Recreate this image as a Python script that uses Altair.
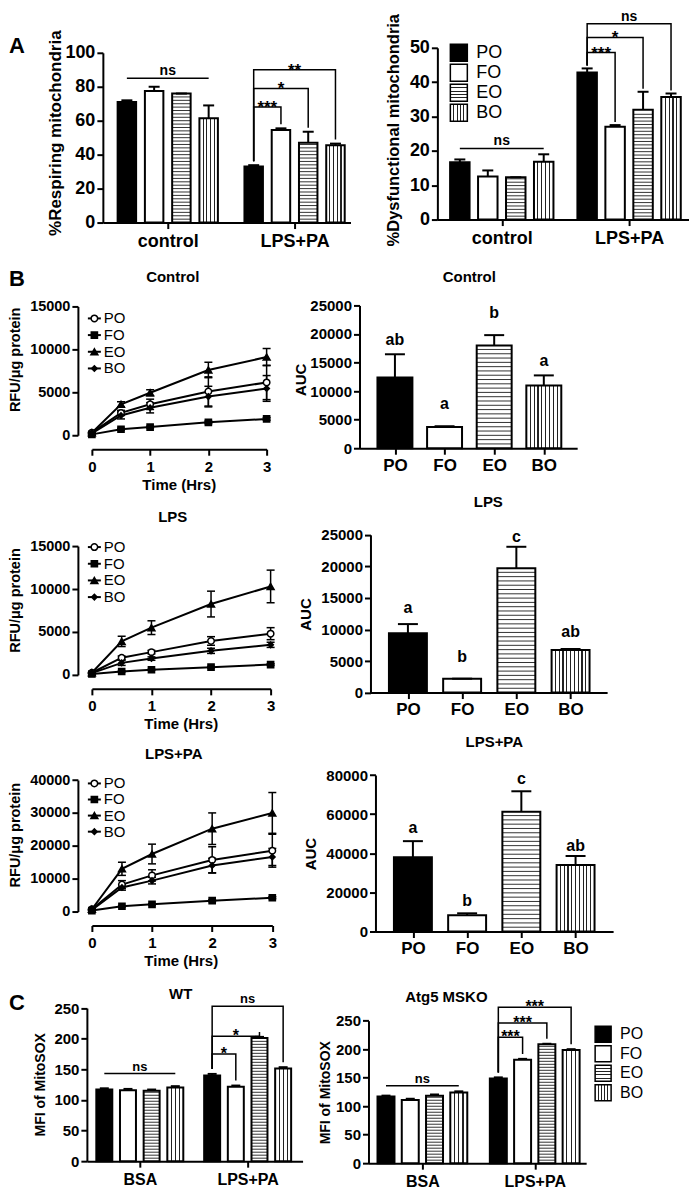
import altair as alt
import pandas as pd

FONT = "Liberation Sans"
SERIES = ["PO", "FO", "EO", "BO"]

# ---------------- Panel A data ----------------
A_GROUPS = ["control", "LPS+PA"]
A_RESP_MEAN = [71.0, 77.5, 76.0, 61.5, 33.0, 54.5, 47.0, 45.5]
A_RESP_ERR = [1.0, 2.5, 0.0, 7.5, 0.8, 1.0, 6.5, 1.0]
A_RESP_NS = 85.0
A_RESP_BRACKETS = [("FO", 68.0, "***"), ("EO", 79.0, "*"), ("BO", 90.0, "**")]

A_DYS_MEAN = [16.7, 12.5, 12.3, 16.8, 42.8, 27.0, 32.0, 35.7]
A_DYS_ERR = [0.8, 1.8, 0.0, 2.2, 1.2, 0.5, 5.2, 1.0]
A_DYS_NS = 20.7
A_DYS_BRACKETS = [("FO", 48.6, "***"), ("EO", 53.0, "*"), ("BO", 57.0, "ns")]

# ---------------- Panel B data ----------------
TIMES = [0, 0.5, 1, 2, 3]

B_CTRL_MEAN = {
    "PO": [300, 2600, 3600, 5100, 6150],
    "FO": [100, 700, 950, 1500, 1900],
    "EO": [300, 3600, 4950, 7600, 9100],
    "BO": [200, 2300, 3200, 4500, 5450],
}
B_CTRL_ERR = {
    "PO": [50, 300, 600, 1700, 2000],
    "FO": [20, 100, 100, 150, 150],
    "EO": [50, 300, 350, 900, 1000],
    "BO": [50, 400, 600, 1200, 1500],
}
B_CTRL_AUC = [12400, 3700, 18000, 11000]
B_CTRL_AUC_ERR = [4050, 150, 1800, 1750]
B_CTRL_LETTERS = ["ab", "a", "b", "a"]
B_CTRL_LETTER_Y = [18000, 6900, 22750, 14350]

B_LPS_MEAN = {
    "PO": [250, 2000, 2650, 3950, 4800],
    "FO": [100, 400, 600, 900, 1200],
    "EO": [250, 3900, 5500, 8250, 10300],
    "BO": [200, 1400, 1900, 2800, 3500],
}
B_LPS_ERR = {
    "PO": [50, 200, 200, 500, 700],
    "FO": [20, 50, 50, 80, 100],
    "EO": [50, 600, 800, 1500, 1900],
    "BO": [30, 300, 200, 300, 300],
}
B_LPS_AUC = [9400, 2200, 19700, 6750]
B_LPS_AUC_ERR = [1450, 0, 3400, 150]
B_LPS_LETTERS = ["a", "b", "c", "ab"]
B_LPS_LETTER_Y = [12660, 4860, 23840, 8810]

B_LPSPA_MEAN = {
    "PO": [700, 8200, 11000, 15700, 18500],
    "FO": [300, 1600, 2200, 3300, 4200],
    "EO": [700, 13000, 17500, 25200, 30000],
    "BO": [500, 7300, 9400, 14000, 16600],
}
B_LPSPA_ERR = {
    "PO": [100, 1200, 1700, 4000, 5000],
    "FO": [50, 200, 200, 300, 300],
    "EO": [100, 2000, 3000, 4800, 6200],
    "BO": [100, 800, 1000, 2200, 2600],
}
B_LPSPA_AUC = [38000, 8300, 61200, 34000]
B_LPSPA_AUC_ERR = [8200, 1000, 10500, 4600]
B_LPSPA_LETTERS = ["a", "b", "c", "ab"]
B_LPSPA_LETTER_Y = [50150, 13100, 75300, 41150]

# ---------------- Panel C data ----------------
C_GROUPS = ["BSA", "LPS+PA"]
C_WT_MEAN = [117.0, 116.0, 115.0, 120.5, 140.0, 121.5, 201.0, 151.5]
C_WT_ERR = [2.0, 2.0, 2.0, 2.0, 2.5, 2.0, 2.0, 2.0]
C_WT_NS = 143.0
C_WT_BRACKETS = [("FO", 175.0, "*"), ("EO", 204.0, "*"), ("BO", 253.0, "ns")]

C_KO_MEAN = [117.0, 111.0, 118.5, 124.0, 148.5, 181.5, 208.5, 198.5]
C_KO_ERR = [1.5, 2.0, 2.0, 2.0, 2.0, 1.5, 1.0, 1.5]
C_KO_NS = 136.0
C_KO_BRACKETS = [("FO", 221.0, "***"), ("EO", 246.0, "***"), ("BO", 273.5, "***")]

# ---------------- layout (page pixels) ----------------
CELL_X = [8, 340]
CELL_W = [332, 349]
CELL_Y = [8, 262, 492, 730, 975]
CELL_H = [254, 230, 238, 245, 205]

SHAPE = {"PO": "circle", "FO": "square", "EO": "triangle-up", "BO": "diamond"}
FILLC = {"PO": "white", "FO": "black", "EO": "black", "BO": "black"}
SIZE = {"PO": 42, "FO": 38, "EO": 48, "BO": 30}

AXIS_COMMON = dict(domainColor="black", domainWidth=2, tickColor="black", tickWidth=2, tickSize=6,
                   labelColor="black", labelFont=FONT, labelFontWeight="bold", grid=False,
                   titleColor="black", titleFont=FONT, titleFontWeight="bold",
                   labelFlush=False, labelOverlap=False, labelBound=False)


def label_expr(labels):
    expr = "'" + labels[-1] + "'"
    for i in range(len(labels) - 2, -1, -1):
        expr = "datum.value < %s ? '%s' : %s" % (i + 0.5, labels[i], expr)
    return expr


def stripe_fill(n, horizontal_lines, half):
    stops = [alt.GradientStop(color="white", offset=0)]
    for j in range(1, n + 1):
        p = j / (n + 1.0)
        stops += [alt.GradientStop(color="white", offset=p - half),
                  alt.GradientStop(color="#222222", offset=p - half),
                  alt.GradientStop(color="#222222", offset=p + half),
                  alt.GradientStop(color="white", offset=p + half)]
    stops.append(alt.GradientStop(color="white", offset=1))
    if horizontal_lines:
        return alt.LinearGradient(gradient="linear", stops=stops, x1=0, x2=0, y1=0, y2=1)
    return alt.LinearGradient(gradient="linear", stops=stops, x1=0, x2=1, y1=0, y2=0)


def text_at(cx, cy, s, x, y, size, weight="bold", align="center", baseline="middle"):
    return alt.Chart(pd.DataFrame({"t": [s]})).mark_text(
        font=FONT, fontSize=size, fontWeight=weight, align=align, baseline=baseline, color="black"
    ).encode(text="t:N", x=alt.value(x - cx), y=alt.value(y - cy))


def square_legend(cx, cy, x, y, size, step, fs, gap):
    layers = []
    for i, name in enumerate(SERIES):
        top = y + i * step - size / 2.0
        if name == "PO":
            fill = "black"
        elif name == "FO":
            fill = "white"
        elif name == "EO":
            fill = stripe_fill(4, True, 0.5 / size)
        else:
            fill = stripe_fill(4, False, 0.5 / size)
        d = pd.DataFrame({"t": [name]})
        layers.append(alt.Chart(d).mark_rect(fill=fill, stroke="black", strokeWidth=1.5).encode(
            x=alt.value(x - cx), x2=alt.value(x + size - cx),
            y=alt.value(top - cy), y2=alt.value(top + size - cy)))
        layers.append(alt.Chart(d).mark_text(font=FONT, fontSize=fs, align="left", baseline="middle",
                                             color="black").encode(
            text="t:N", x=alt.value(x + size + gap - cx), y=alt.value(y + i * step - cy)))
    return layers


def make_bar_panel(r, c, L, groups, means, errs, ns_y=None, brackets=(), letters=None, letter_y=None):
    cx, cy, W, H = CELL_X[c], CELL_Y[r], CELL_W[c], CELL_H[r]
    grouped = len(groups) > 1
    unit = L["unit"]
    ymax = L["ymax"]
    ppu = (L["y0"] - L["ytop"]) / float(ymax)

    def xc(g, s):
        if grouped:
            return g + (s - 1.5) * L["sub"] / unit
        return float(s)

    hw = L["barw"] / 2.0 / unit
    cw = L["capw"] / 2.0 / unit
    recs = []
    tops = {}
    for g in range(len(groups)):
        for s, name in enumerate(SERIES):
            m = means[g * 4 + s]
            e = errs[g * 4 + s]
            x = xc(g, s)
            tops[(g, s)] = m + e
            recs.append(dict(series=name, xc=x, x1=x - hw, x2=x + hw, c1=x - cw, c2=x + cw,
                             mean=m, top=m + e))
    df = pd.DataFrame(recs)

    XS = alt.Scale(domain=[(L["axis_x"] - L["c0"]) / unit, (L["x_end"] - L["c0"]) / unit],
                   range=[L["axis_x"] - cx, L["x_end"] - cx], nice=False, zero=False)
    YS = alt.Scale(domain=[0, ymax], range=[L["y0"] - cy, L["ytop"] - cy], nice=False, zero=True)
    ticks = list(range(len(groups))) if grouped else [0, 1, 2, 3]
    tlabels = groups if grouped else SERIES
    XA = alt.Axis(values=ticks, labelExpr=label_expr(tlabels), title=None,
                  offset=(L["y0"] - cy) - H, labelFontSize=L["xfs"], labelPadding=L["xpad"], **AXIS_COMMON)
    YA = alt.Axis(values=list(range(0, ymax + 1, L["ytick"])), format="d",
                  offset=-(L["axis_x"] - cx), title=L["ytitle"],
                  titleX=L["tx"] - L["axis_x"], titleY=L["ty"] - cy, titleAngle=270,
                  titleAlign="center", titleBaseline="middle", titleFontSize=L["tfs"],
                  labelFontSize=L["yfs"], labelPadding=2, **AXIS_COMMON)

    def X(f):
        return alt.X(f, type="quantitative", scale=XS, axis=XA)

    def Y(f):
        return alt.Y(f, type="quantitative", scale=YS, axis=YA)

    layers = []
    layers.append(alt.Chart(df[df.series == "PO"]).mark_rect(fill="black", strokeWidth=0).encode(
        x=X("x1"), x2="x2", y=Y("mean"), y2=alt.datum(0)))
    layers.append(alt.Chart(df[df.series.isin(["FO", "EO"])]).mark_rect(fill="white", strokeWidth=0).encode(
        x=X("x1"), x2="x2", y=Y("mean"), y2=alt.datum(0)))
    layers.append(alt.Chart(df[df.series == "BO"]).mark_rect(
        fill=stripe_fill(L["bo_lines"], False, 0.55 / L["barw"]), strokeWidth=0).encode(
        x=X("x1"), x2="x2", y=Y("mean"), y2=alt.datum(0)))
    step = L["stripe_px"] / ppu
    layers.append(alt.Chart(df[df.series == "EO"]).transform_calculate(
        ys="sequence(%r, datum.mean - %r, %r)" % (step, step * 0.4, step)
    ).transform_flatten(["ys"]).mark_rule(color="#333333", strokeWidth=1).encode(
        x=X("x1"), x2="x2", y=Y("ys")))
    layers.append(alt.Chart(df).mark_rect(fill="white", fillOpacity=0, stroke="black", strokeWidth=2).encode(
        x=X("x1"), x2="x2", y=Y("mean"), y2=alt.datum(0)))
    layers.append(alt.Chart(df).mark_rule(color="black", strokeWidth=2).encode(
        x=X("xc"), y=Y("mean"), y2="top"))
    layers.append(alt.Chart(df).mark_rule(color="black", strokeWidth=2).encode(
        x=X("c1"), x2="c2", y=Y("top")))

    if ns_y is not None:
        a, b = xc(0, 0), xc(0, 3)
        nd = pd.DataFrame({"a": [a], "b": [b], "m": [(a + b) / 2], "y": [ns_y], "t": ["ns"]})
        layers.append(alt.Chart(nd).mark_rule(color="black", strokeWidth=1.5).encode(
            x=X("a"), x2="b", y=Y("y")))
        layers.append(alt.Chart(nd).mark_text(font=FONT, fontSize=L["ns_fs"], fontWeight="bold",
                                              baseline="alphabetic", dy=-3, color="black").encode(
            x=X("m"), y=Y("y"), text="t:N"))

    if brackets:
        gap = L["gap"] / ppu
        brec, trec = [], []
        for bi, (tgt, yb, lab) in enumerate(brackets):
            s = SERIES.index(tgt)
            xa, xb = xc(1, 0), xc(1, s)
            brec += [dict(bid=bi, k=0, bx=xa, by=tops[(1, 0)] + gap),
                     dict(bid=bi, k=1, bx=xa, by=yb),
                     dict(bid=bi, k=2, bx=xb, by=yb),
                     dict(bid=bi, k=3, bx=xb, by=tops[(1, s)] + gap)]
            trec.append(dict(x=(xa + xb) / 2, y=yb, t=lab, star=(lab.strip("*") == "")))
        bd = pd.DataFrame(brec)
        td = pd.DataFrame(trec)
        layers.append(alt.Chart(bd).mark_line(color="black", strokeWidth=1.5).encode(
            x=X("bx"), y=Y("by"), detail="bid:N", order="k:Q"))
        stars = td[td.star]
        others = td[~td.star]
        if len(stars):
            layers.append(alt.Chart(stars).mark_text(font=FONT, fontSize=L["ast_fs"], fontWeight="bold",
                                                     baseline="alphabetic", dy=L["ast_dy"], color="black").encode(
                x=X("x"), y=Y("y"), text="t:N"))
        if len(others):
            layers.append(alt.Chart(others).mark_text(font=FONT, fontSize=L["ns_fs"], fontWeight="bold",
                                                      baseline="alphabetic", dy=-3, color="black").encode(
                x=X("x"), y=Y("y"), text="t:N"))

    if letters:
        ld = pd.DataFrame({"x": [float(s) for s in range(4)], "y": letter_y, "t": letters})
        layers.append(alt.Chart(ld).mark_text(font=FONT, fontSize=16, fontWeight="bold",
                                              baseline="alphabetic", color="black").encode(
            x=X("x"), y=Y("y"), text="t:N"))
    return layers, (cx, cy, W, H)


def make_line_panel(r, c, L, means, errs):
    cx, cy, W, H = CELL_X[c], CELL_Y[r], CELL_W[c], CELL_H[r]
    ymax = L["ymax"]
    xppu = (L["x3"] - L["x0"]) / 3.0
    capd = L["capw"] / 2.0 / xppu
    recs = []
    for name in SERIES:
        for t, m, e in zip(TIMES, means[name], errs[name]):
            recs.append(dict(series=name, t=t, mean=m, lo=m - e, hi=m + e, c1=t - capd, c2=t + capd))
    df = pd.DataFrame(recs)
    XS = alt.Scale(domain=[0, 3], range=[L["x0"] - cx, L["x3"] - cx], nice=False, zero=False)
    YS = alt.Scale(domain=[0, ymax], range=[L["y0"] - cy, L["ytop"] - cy], nice=False, zero=True)
    XA = alt.Axis(values=[0, 1, 2, 3], format="d", offset=(L["xaxis_y"] - cy) - H,
                  title="Time (Hrs)", titleX=L["ttx"] - cx, titleY=L["tty"] - L["xaxis_y"],
                  titleAlign="center", titleBaseline="middle", titleFontSize=15,
                  labelFontSize=15, labelPadding=4, **AXIS_COMMON)
    YA = alt.Axis(values=list(range(0, ymax + 1, L["ytick"])), format="d",
                  offset=-(L["axis_x"] - cx), title="RFU/\u03bcg protein",
                  titleX=L["tx"] - L["axis_x"], titleY=L["ty"] - cy, titleAngle=270,
                  titleAlign="center", titleBaseline="middle", titleFontSize=14.5,
                  labelFontSize=14.5, labelPadding=2, **AXIS_COMMON)

    def X(f):
        return alt.X(f, type="quantitative", scale=XS, axis=XA)

    def Y(f):
        return alt.Y(f, type="quantitative", scale=YS, axis=YA)

    base = alt.Chart(df)
    layers = [
        base.mark_line(color="black", strokeWidth=2).encode(x=X("t"), y=Y("mean"), detail="series:N"),
        base.mark_rule(color="black", strokeWidth=1.5).encode(x=X("t"), y=Y("lo"), y2="hi"),
        base.mark_rule(color="black", strokeWidth=1.5).encode(x=X("c1"), x2="c2", y=Y("lo")),
        base.mark_rule(color="black", strokeWidth=1.5).encode(x=X("c1"), x2="c2", y=Y("hi")),
    ]
    for name in SERIES:
        layers.append(alt.Chart(df[df.series == name]).mark_point(
            shape=SHAPE[name], fill=FILLC[name], size=SIZE[name], stroke="black", strokeWidth=1.5,
            opacity=1, filled=True).encode(x=X("t"), y=Y("mean")))
    for i, name in enumerate(SERIES):
        yy = L["ly"] + i * L["lstep"] - cy
        d = pd.DataFrame({"t": [name]})
        layers.append(alt.Chart(d).mark_rule(color="black", strokeWidth=2).encode(
            x=alt.value(L["lx"] - cx), x2=alt.value(L["lx"] + 13 - cx), y=alt.value(yy)))
        layers.append(alt.Chart(d).mark_point(shape=SHAPE[name], fill=FILLC[name], size=SIZE[name],
                                              stroke="black", strokeWidth=1.5, opacity=1, filled=True).encode(
            x=alt.value(L["lx"] + 6.5 - cx), y=alt.value(yy)))
        layers.append(alt.Chart(d).mark_text(font=FONT, fontSize=15, align="left", baseline="middle",
                                             color="black").encode(
            text="t:N", x=alt.value(L["lx"] + 16 - cx), y=alt.value(yy)))
    return layers, (cx, cy, W, H)


def finish(layers, geom):
    return alt.layer(*layers).properties(width=geom[2], height=geom[3])


# ---------------- panel layouts ----------------
L_A_RESP = dict(axis_x=102, x_end=350, c0=167, unit=127, sub=27.3, barw=18.5, capw=11,
                y0=220, ytop=50, ymax=100, ytick=20, yfs=18, xfs=18, xpad=4,
                ytitle="%Respiring mitochondria", tx=55, ty=130, tfs=17,
                stripe_px=3.4, bo_lines=4, gap=4, ast_fs=17, ast_dy=6, ns_fs=14)
L_A_DYS = dict(axis_x=437, x_end=689, c0=501.5, unit=127.5, sub=28, barw=19.5, capw=11,
               y0=217, ytop=45, ymax=50, ytick=10, yfs=18, xfs=18, xpad=4,
               ytitle="%Dysfunctional mitochondria", tx=393, ty=127, tfs=16.5,
               stripe_px=3.4, bo_lines=4, gap=3, ast_fs=17, ast_dy=6, ns_fs=14)
L_B1_BAR = dict(axis_x=359, x_end=577, c0=394.5, unit=49.7, barw=35, capw=20,
                y0=446, ytop=303, ymax=25000, ytick=5000, yfs=15, xfs=17, xpad=3,
                ytitle="AUC", tx=300, ty=377, tfs=15, stripe_px=4.3, bo_lines=8)
L_B2_BAR = dict(axis_x=370, x_end=607, c0=407.5, unit=54.3, barw=38, capw=20,
                y0=690.7, ytop=532.7, ymax=25000, ytick=5000, yfs=15, xfs=17, xpad=3,
                ytitle="AUC", tx=305, ty=612, tfs=15, stripe_px=4.3, bo_lines=9)
L_B3_BAR = dict(axis_x=375, x_end=613, c0=412.5, unit=54.3, barw=38, capw=20,
                y0=930, ytop=773.3, ymax=80000, ytick=20000, yfs=15, xfs=17, xpad=3,
                ytitle="AUC", tx=310, ty=852, tfs=15, stripe_px=4.3, bo_lines=9)
L_C_WT = dict(axis_x=86, x_end=302, c0=139, unit=108, sub=23.7, barw=16, capw=9,
              y0=1160, ytop=1006.7, ymax=250, ytick=50, yfs=15, xfs=16, xpad=4,
              ytitle="MFI of MitoSOX", tx=40, ty=1083, tfs=14,
              stripe_px=3.0, bo_lines=3, gap=5, ast_fs=16, ast_dy=5, ns_fs=13)
L_C_KO = dict(axis_x=368, x_end=586, c0=422, unit=112.5, sub=24.3, barw=17, capw=9,
              y0=1162, ytop=1019.3, ymax=250, ytick=50, yfs=15, xfs=16, xpad=4,
              ytitle="MFI of MitoSOX", tx=325, ty=1091, tfs=14,
              stripe_px=3.0, bo_lines=3, gap=5, ast_fs=16, ast_dy=5, ns_fs=13)

L_B1_LINE = dict(axis_x=77, x0=91, x3=266, y0=433, ytop=304, ymax=15000, ytick=5000, xaxis_y=447,
                 tx=15, ty=357, ttx=178, tty=482.7, capw=8, lx=87, ly=316, lstep=16.7)
L_B2_LINE = dict(axis_x=77, x0=91, x3=270, y0=673, ytop=544, ymax=15000, ytick=5000, xaxis_y=687,
                 tx=15, ty=598, ttx=180, tty=721.7, capw=8, lx=87, ly=545, lstep=16.7)
L_B3_LINE = dict(axis_x=77, x0=91, x3=271.7, y0=910, ytop=778.3, ymax=40000, ytick=10000, xaxis_y=924,
                 tx=15, ty=833, ttx=180, tty=959.3, capw=8, lx=87, ly=781.7, lstep=16.1)

# ---------------- build panels ----------------
lay, g = make_bar_panel(0, 0, L_A_RESP, A_GROUPS, A_RESP_MEAN, A_RESP_ERR, A_RESP_NS, A_RESP_BRACKETS)
lay.append(text_at(g[0], g[1], "A", 8, 43, 22, align="left"))
a_left = finish(lay, g)

lay, g = make_bar_panel(0, 1, L_A_DYS, A_GROUPS, A_DYS_MEAN, A_DYS_ERR, A_DYS_NS, A_DYS_BRACKETS)
lay += square_legend(g[0], g[1], 450, 50, 17, 20, 18, 9)
a_right = finish(lay, g)

lay, g = make_line_panel(1, 0, L_B1_LINE, B_CTRL_MEAN, B_CTRL_ERR)
lay.append(text_at(g[0], g[1], "B", 8, 277, 22, align="left"))
lay.append(text_at(g[0], g[1], "Control", 172, 275, 15))
b1_left = finish(lay, g)

lay, g = make_bar_panel(1, 1, L_B1_BAR, [""], B_CTRL_AUC, B_CTRL_AUC_ERR,
                        letters=B_CTRL_LETTERS, letter_y=B_CTRL_LETTER_Y)
lay.append(text_at(g[0], g[1], "Control", 469, 275, 15))
b1_right = finish(lay, g)

lay, g = make_line_panel(2, 0, L_B2_LINE, B_LPS_MEAN, B_LPS_ERR)
lay.append(text_at(g[0], g[1], "LPS", 172, 515, 15))
b2_left = finish(lay, g)

lay, g = make_bar_panel(2, 1, L_B2_BAR, [""], B_LPS_AUC, B_LPS_AUC_ERR,
                        letters=B_LPS_LETTERS, letter_y=B_LPS_LETTER_Y)
lay.append(text_at(g[0], g[1], "LPS", 488, 500, 15))
b2_right = finish(lay, g)

lay, g = make_line_panel(3, 0, L_B3_LINE, B_LPSPA_MEAN, B_LPSPA_ERR)
lay.append(text_at(g[0], g[1], "LPS+PA", 173, 752, 15))
b3_left = finish(lay, g)

lay, g = make_bar_panel(3, 1, L_B3_BAR, [""], B_LPSPA_AUC, B_LPSPA_AUC_ERR,
                        letters=B_LPSPA_LETTERS, letter_y=B_LPSPA_LETTER_Y)
lay.append(text_at(g[0], g[1], "LPS+PA", 494, 740, 15))
b3_right = finish(lay, g)

lay, g = make_bar_panel(4, 0, L_C_WT, C_GROUPS, C_WT_MEAN, C_WT_ERR, C_WT_NS, C_WT_BRACKETS)
lay.append(text_at(g[0], g[1], "C", 8, 1002, 22, align="left"))
lay.append(text_at(g[0], g[1], "WT", 180, 993, 15))
c_left = finish(lay, g)

lay, g = make_bar_panel(4, 1, L_C_KO, C_GROUPS, C_KO_MEAN, C_KO_ERR, C_KO_NS, C_KO_BRACKETS)
lay += square_legend(g[0], g[1], 595, 1033, 16, 19.5, 16, 9)
lay.append(text_at(g[0], g[1], "Atg5 MSKO", 446, 996, 15))
c_right = finish(lay, g)

chart = alt.concat(a_left, a_right, b1_left, b1_right, b2_left, b2_right,
                   b3_left, b3_right, c_left, c_right,
                   columns=2, spacing=0, bounds="flush", align="each", padding=0).configure(
    font=FONT).configure_view(stroke=None, strokeWidth=0)

chart.save("out.html", embed_options={"renderer": "svg", "actions": False})
